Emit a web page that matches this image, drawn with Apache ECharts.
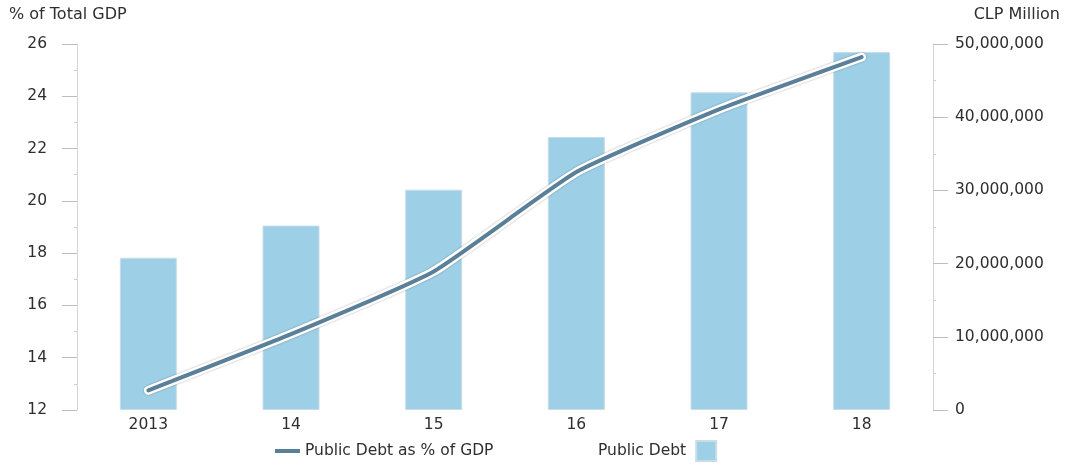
<!DOCTYPE html>
<html>
<head>
<meta charset="utf-8">
<script src="https://cdn.jsdelivr.net/npm/echarts@6/dist/echarts.min.js"></script>
<style>
  html, body { margin: 0; padding: 0; background: #fff; }
  #chart { width: 1065px; height: 467px; }
</style>
</head>
<body>
<div id="chart"></div>
<script>
// Chile public debt, 2013-2018
const years = ['2013', '14', '15', '16', '17', '18'];
const debtPctGdp = [12.75, 14.9, 17.3, 21.1, 23.5, 25.5];          // % of total GDP
const publicDebt = [20800000, 25200000, 30100000, 37300000, 43400000, 48900000]; // CLP million

const FONT = '"DejaVu Sans", Lato, sans-serif';
const TEXT = '#2e2e2e';
const LINE_BLUE = '#5a7f99';
const BAR_BLUE = '#9dd0e7';

const fmt = v => Number(v).toLocaleString('en-US');

const chart = echarts.init(document.getElementById('chart'), null, { renderer: 'canvas' });

chart.setOption({
  animation: false,
  textStyle: { fontFamily: FONT, color: TEXT },
  grid: { left: 77, right: 132, top: 44, bottom: 57 },
  graphic: [
    { type: 'text', left: 9, top: 7,
      style: { text: '% of Total GDP', fontFamily: FONT, fontSize: 16, fill: TEXT } },
    { type: 'text', right: 5, top: 7,
      style: { text: 'CLP Million', fontFamily: FONT, fontSize: 16, fill: TEXT } }
  ],
  legend: [
    {
      data: [{ name: 'Public Debt as % of GDP', icon: 'rect' }],
      left: 270, bottom: 3, itemWidth: 25, itemHeight: 4, itemGap: 3,
      textStyle: { fontFamily: FONT, fontSize: 15.5, color: TEXT },
      align: 'left'
    },
    {
      data: [{ name: 'Public Debt', icon: 'rect' }],
      left: 593, bottom: 0, itemWidth: 20, itemHeight: 20, itemGap: 6,
      textStyle: { fontFamily: FONT, fontSize: 15.5, color: TEXT, padding: [0, 5, 0, 0] },
      align: 'right'
    }
  ],
  xAxis: {
    type: 'category',
    data: years,
    axisLine: { show: false },
    axisTick: { show: false },
    axisLabel: { fontFamily: FONT, fontSize: 15.5, color: TEXT, margin: 7 }
  },
  yAxis: [
    {
      type: 'value', min: 12, max: 26, interval: 2, position: 'left',
      axisLine: { show: true, lineStyle: { color: '#d6d6d6', width: 1 } },
      axisTick: { show: true, inside: false, length: 15, lineStyle: { color: '#bdbdbd' } },
      minorTick: { show: true, splitNumber: 2, length: 3, lineStyle: { color: '#cfcfcf' } },
      splitLine: { show: false },
      axisLabel: { fontFamily: FONT, fontSize: 15.5, color: TEXT, margin: 30 }
    },
    {
      type: 'value', min: 0, max: 50000000, interval: 10000000, position: 'right',
      axisLine: { show: true, lineStyle: { color: '#d6d6d6', width: 1 } },
      axisTick: { show: true, inside: false, length: 15, lineStyle: { color: '#bdbdbd' } },
      minorTick: { show: true, splitNumber: 2, length: 3, lineStyle: { color: '#cfcfcf' } },
      splitLine: { show: false },
      axisLabel: { fontFamily: FONT, fontSize: 15.5, color: TEXT, margin: 22, formatter: fmt }
    }
  ],
  series: [
    {
      name: 'Public Debt',
      type: 'bar',
      yAxisIndex: 1,
      data: publicDebt,
      barWidth: 57,
      itemStyle: { color: BAR_BLUE, borderColor: '#c9dde6', borderWidth: 1 },
      z: 1
    },
    {
      // white halo under the ratio line
      name: 'halo',
      type: 'line',
      yAxisIndex: 0,
      data: debtPctGdp,
      symbol: 'none',
      smooth: 0.15,
      lineStyle: { color: '#ffffff', width: 9, cap: 'round', join: 'round',
                   shadowColor: 'rgba(0,0,0,0.35)', shadowBlur: 2 },
      silent: true,
      z: 3
    },
    {
      name: 'Public Debt as % of GDP',
      type: 'line',
      yAxisIndex: 0,
      data: debtPctGdp,
      symbol: 'none',
      smooth: 0.15,
      itemStyle: { color: LINE_BLUE },
      lineStyle: { color: LINE_BLUE, width: 4, cap: 'round', join: 'round' },
      z: 4
    }
  ]
});
</script>
</body>
</html>
